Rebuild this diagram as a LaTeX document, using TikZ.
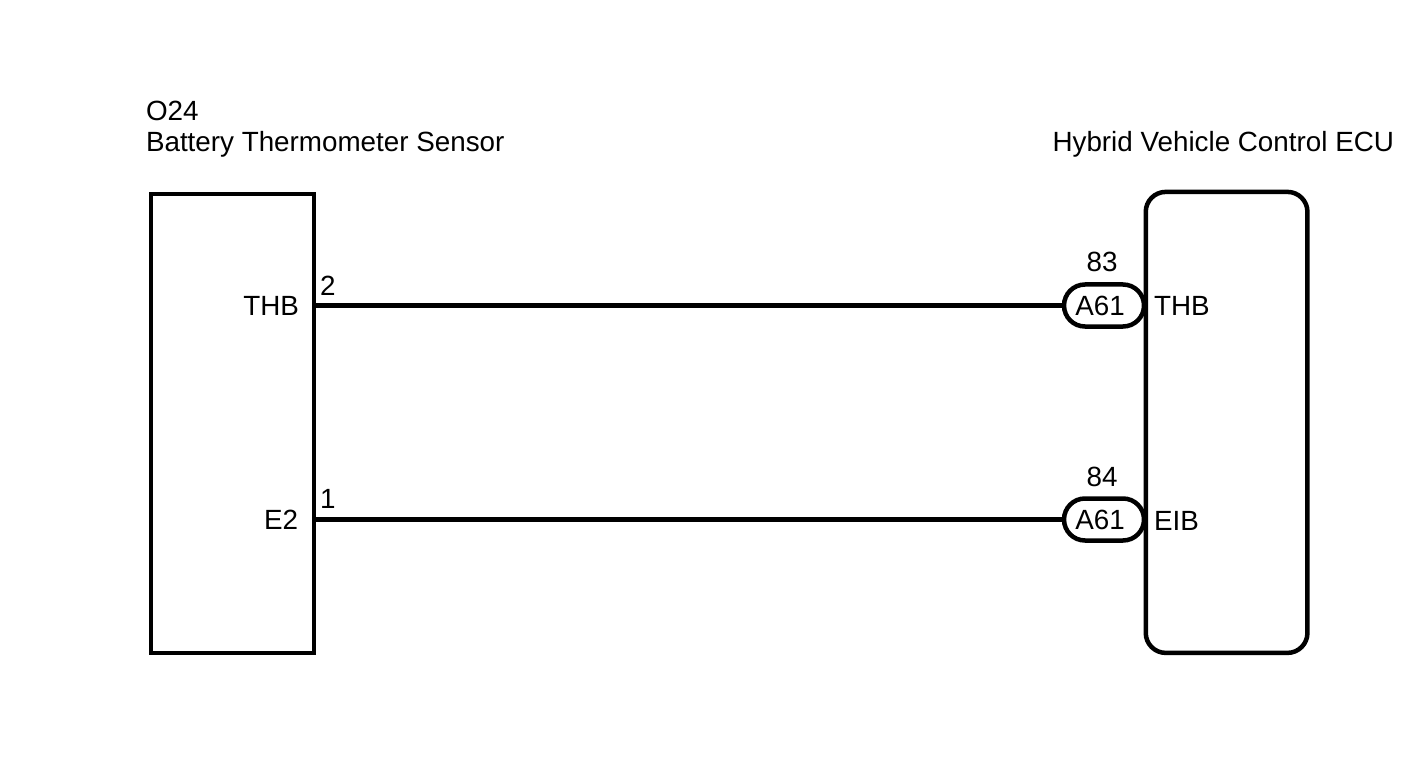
\documentclass[tikz,border=0pt]{standalone}
\usepackage{fontspec}
\setmainfont{Liberation Sans}
\begin{document}
\begin{tikzpicture}[x=1pt,y=-1pt,
  wire/.style={line width=4.5pt},
  unitbox/.style={draw,line width=4.5pt,inner sep=0pt,outer sep=0pt},
  pill/.style={draw,line width=4.5pt,rounded corners=21pt,minimum width=80pt,minimum height=42pt,inner sep=0pt,outer sep=0pt},
  lbl/.style={inner sep=0pt,outer sep=0pt,font=\fontsize{27.8}{33}\selectfont}]
\useasboundingbox (0,0) rectangle (1424,759);
\fill[white] (0,0) rectangle (1424,759);
% units
\node[unitbox,minimum width=163pt,minimum height=459pt] (sensor) at (232.5,423.5) {};
\node[unitbox,rounded corners=20pt,minimum width=161.7pt,minimum height=461pt] (ecu) at (1226.6,422.4) {};
% titles
\node[lbl,anchor=base west] (o24) at (146,121) {O24};
\node[lbl,anchor=base west] (sname) at (146,152) {Battery Thermometer Sensor};
\node[lbl,anchor=base east] (ename) at (1394,152) {Hybrid Vehicle Control ECU};
% connectors
\node[pill,fill=white] (p1) at (1104,305.5) {};
\node[pill,fill=white] (p2) at (1104,519.5) {};
\node[lbl,anchor=base] (p1t) at (1100,315.5) {A61};
\node[lbl,anchor=base] (p2t) at (1100,529.5) {A61};
\node[lbl,anchor=base] (n83) at (1102,272) {83};
\node[lbl,anchor=base] (n84) at (1102,486) {84};
% wires
\coordinate (s1) at (sensor.east |- p1);
\coordinate (s2) at (sensor.east |- p2);
\draw[wire] (s1) -- (p1.west);
\draw[wire] (s2) -- (p2.west);
% pin labels
\node[lbl,anchor=base west] (pin2) at (320,295) {2};
\node[lbl,anchor=base west] (pin1) at (320,508) {1};
\node[lbl,anchor=base east] (lthb) at (299,316) {THB};
\node[lbl,anchor=base east] (le2) at (298,529) {E2};
\node[lbl,anchor=base west] (rthb) at (1154,316) {THB};
\node[lbl,anchor=base west] (reib) at (1154,530) {EIB};
\end{tikzpicture}
\end{document}
